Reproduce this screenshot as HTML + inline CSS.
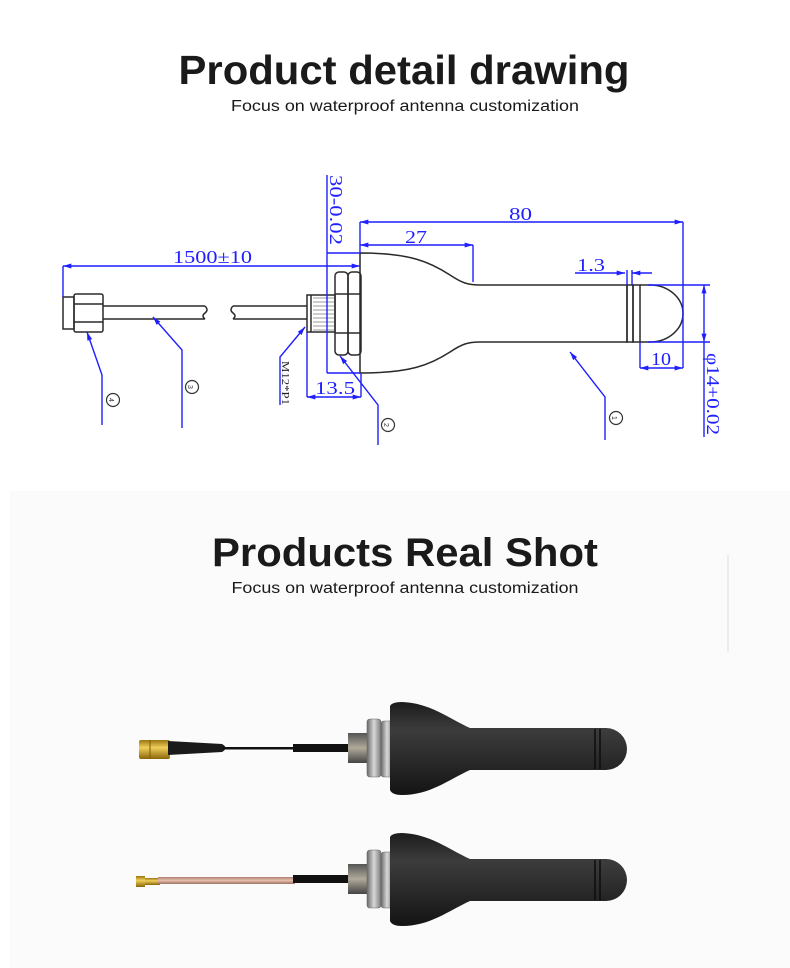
<!DOCTYPE html>
<html><head><meta charset="utf-8">
<style>
html,body{margin:0;padding:0;background:#fff;}
svg{display:block;}
</style></head>
<body>
<svg width="790" height="968" viewBox="0 0 790 968" xmlns="http://www.w3.org/2000/svg">
<defs>
  <marker id="ar" viewBox="0 0 10 6" refX="10" refY="3" markerWidth="9" markerHeight="5" orient="auto-start-reverse" markerUnits="userSpaceOnUse">
    <path d="M0,0 L10,3 L0,6 Z" fill="#1f1fff"/>
  </marker>
  <linearGradient id="bodyG" x1="0" y1="0" x2="0" y2="1">
    <stop offset="0" stop-color="#1c1c1c"/>
    <stop offset="0.3" stop-color="#3c3c3c"/>
    <stop offset="0.55" stop-color="#2e2e2e"/>
    <stop offset="1" stop-color="#141414"/>
  </linearGradient>
  <linearGradient id="nutG" x1="0" y1="0" x2="1" y2="0">
    <stop offset="0" stop-color="#6a6a6a"/>
    <stop offset="0.5" stop-color="#d8d8d8"/>
    <stop offset="1" stop-color="#7a7a7a"/>
  </linearGradient>
  <linearGradient id="thrG" x1="0" y1="0" x2="0" y2="1">
    <stop offset="0" stop-color="#555"/>
    <stop offset="0.5" stop-color="#b0aa9a"/>
    <stop offset="1" stop-color="#444"/>
  </linearGradient>
  <linearGradient id="goldG" x1="0" y1="0" x2="0" y2="1">
    <stop offset="0" stop-color="#9a7410"/>
    <stop offset="0.4" stop-color="#f0cf5a"/>
    <stop offset="1" stop-color="#8a6508"/>
  </linearGradient>
  <linearGradient id="copG" x1="0" y1="0" x2="0" y2="1">
    <stop offset="0" stop-color="#b08070"/>
    <stop offset="0.5" stop-color="#e6c0b0"/>
    <stop offset="1" stop-color="#a07060"/>
  </linearGradient>
</defs>

<!-- backgrounds -->
<rect x="0" y="0" width="790" height="968" fill="#fff"/>
<rect x="10" y="491" width="780" height="477" fill="#fbfbfb"/>
<line x1="728" y1="555" x2="728" y2="652" stroke="#ececec" stroke-width="2"/>

<!-- titles -->
<text x="404" y="84" text-anchor="middle" font-family="Liberation Sans, sans-serif" font-weight="bold" font-size="41" fill="#1a1a1a" textLength="451" lengthAdjust="spacingAndGlyphs">Product detail drawing</text>
<text x="405" y="111" text-anchor="middle" font-family="Liberation Sans, sans-serif" font-size="15.5" fill="#1a1a1a" textLength="348" lengthAdjust="spacingAndGlyphs">Focus on waterproof antenna customization</text>
<text x="405" y="566" text-anchor="middle" font-family="Liberation Sans, sans-serif" font-weight="bold" font-size="40" fill="#1a1a1a" textLength="386" lengthAdjust="spacingAndGlyphs">Products Real Shot</text>
<text x="405" y="593" text-anchor="middle" font-family="Liberation Sans, sans-serif" font-size="15.5" fill="#1a1a1a" textLength="347" lengthAdjust="spacingAndGlyphs">Focus on waterproof antenna customization</text>

<!-- ===== drawing: black parts ===== -->
<g fill="none" stroke="#2a2a2a" stroke-width="1.5">
  <!-- SMA -->
  <rect x="63" y="297" width="11" height="32"/>
  <rect x="74" y="294" width="29" height="38" rx="2"/>
  <line x1="74" y1="304" x2="103" y2="304"/>
  <line x1="74" y1="322" x2="103" y2="322"/>
  <!-- cable -->
  <line x1="103" y1="306" x2="205" y2="306"/>
  <line x1="103" y1="319" x2="205" y2="319"/>
  <path d="M205,306 Q209,310 205,313 Q201,316 205,319"/>
  <path d="M233,306 Q229,310 233,313 Q237,316 233,319"/>
  <line x1="233" y1="306" x2="307" y2="306"/>
  <line x1="233" y1="319" x2="307" y2="319"/>
  <!-- thread -->
  <rect x="307" y="295" width="28" height="37"/>
  <line x1="311" y1="295" x2="311" y2="332"/>
  <!-- nuts -->
  <rect x="335" y="272" width="13" height="83" rx="4"/>
  <rect x="348" y="272" width="13" height="83" rx="4"/>
  <line x1="335" y1="294" x2="361" y2="294"/>
  <line x1="335" y1="333" x2="361" y2="333"/>
  <!-- body -->
  <path d="M360,253 C410,253 430,262 450,275 C462,283 468,285 480,285 L627,285 L627,342 L480,342 C468,342 462,344 450,352 C430,365 410,373 360,373 Z"/>
  <rect x="627" y="285" width="6" height="57"/>
  <rect x="633" y="285" width="7" height="57"/>
  <path d="M640,285 L650,285 A33,28.5 0 0 1 650,342 L640,342"/>
</g>
<g stroke="#333" stroke-width="0.6">
  <line x1="313" y1="298" x2="334" y2="298"/><line x1="313" y1="302" x2="334" y2="302"/>
  <line x1="313" y1="306" x2="334" y2="306"/><line x1="313" y1="310" x2="334" y2="310"/>
  <line x1="313" y1="314" x2="334" y2="314"/><line x1="313" y1="318" x2="334" y2="318"/>
  <line x1="313" y1="322" x2="334" y2="322"/><line x1="313" y1="326" x2="334" y2="326"/>
  <line x1="313" y1="330" x2="334" y2="330"/>
</g>

<!-- ===== drawing: blue dims ===== -->
<g stroke="#1f1fff" stroke-width="1.4" fill="none">
  <!-- 1500 -->
  <line x1="63" y1="266" x2="360" y2="266" marker-start="url(#ar)" marker-end="url(#ar)"/>
  <line x1="63" y1="266" x2="63" y2="297"/>
  <!-- 30-0.02 -->
  <line x1="327" y1="175" x2="327" y2="373"/>
  <line x1="327" y1="253" x2="360" y2="253"/>
  <line x1="327" y1="373" x2="360" y2="373"/>
  <!-- 80 -->
  <line x1="360" y1="222" x2="683" y2="222" marker-start="url(#ar)" marker-end="url(#ar)"/>
  <line x1="360" y1="222" x2="360" y2="253"/>
  <line x1="683" y1="222" x2="683" y2="368"/>
  <!-- 27 -->
  <line x1="360" y1="245" x2="473" y2="245" marker-start="url(#ar)" marker-end="url(#ar)"/>
  <line x1="473" y1="245" x2="473" y2="282"/>
  <!-- 1.3 -->
  <line x1="575" y1="273" x2="625" y2="273" marker-end="url(#ar)"/>
  <line x1="652" y1="273" x2="632" y2="273" marker-end="url(#ar)"/>
  <line x1="627" y1="270" x2="627" y2="285"/>
  <line x1="632" y1="270" x2="632" y2="285"/>
  <!-- 10 -->
  <line x1="640" y1="368" x2="683" y2="368" marker-start="url(#ar)" marker-end="url(#ar)"/>
  <line x1="640" y1="342" x2="640" y2="368"/>
  <!-- phi14 -->
  <line x1="648" y1="285" x2="710" y2="285"/>
  <line x1="648" y1="342" x2="710" y2="342"/>
  <line x1="704" y1="285" x2="704" y2="342" marker-start="url(#ar)" marker-end="url(#ar)"/>
  <line x1="704" y1="342" x2="704" y2="437"/>
  <!-- 13.5 -->
  <line x1="307" y1="397" x2="361" y2="397" marker-start="url(#ar)" marker-end="url(#ar)"/>
  <line x1="307" y1="332" x2="307" y2="397"/>
  <line x1="361" y1="373" x2="361" y2="397"/>
  <!-- M12 leader -->
  <polyline points="305,327 280,357 280,405" marker-start="url(#ar)"/>
  <!-- leaders -->
  <polyline points="87,332 102,375 102,425" marker-start="url(#ar)"/>
  <polyline points="153,317 182,350 182,428" marker-start="url(#ar)"/>
  <polyline points="340,356 378,405 378,445" marker-start="url(#ar)"/>
  <polyline points="570,352 605,397 605,440" marker-start="url(#ar)"/>
</g>
<g font-family="Liberation Serif, serif" fill="#1f1fff" font-size="18">
  <text x="173" y="263" textLength="79" lengthAdjust="spacingAndGlyphs">1500±10</text>
  <text x="509" y="220" textLength="23" lengthAdjust="spacingAndGlyphs">80</text>
  <text x="405" y="243" textLength="22" lengthAdjust="spacingAndGlyphs">27</text>
  <text x="577" y="271" textLength="28" lengthAdjust="spacingAndGlyphs">1.3</text>
  <text x="651" y="365" textLength="20" lengthAdjust="spacingAndGlyphs">10</text>
  <text x="315" y="394" textLength="40" lengthAdjust="spacingAndGlyphs">13.5</text>
  <text transform="translate(330,175) rotate(90)" textLength="70" lengthAdjust="spacingAndGlyphs">30-0.02</text>
  <text transform="translate(707,353) rotate(90)" textLength="82" lengthAdjust="spacingAndGlyphs">φ14+0.02</text>
  <text transform="translate(282,361) rotate(90)" font-size="10" fill="#222" textLength="44" lengthAdjust="spacingAndGlyphs">M12*P1</text>
</g>
<g fill="none" stroke="#333" stroke-width="1.2">
  <circle cx="113" cy="400" r="6.5"/>
  <circle cx="192" cy="387" r="6.5"/>
  <circle cx="388" cy="425" r="6.5"/>
  <circle cx="616" cy="418" r="6.5"/>
</g>
<g font-family="Liberation Sans, sans-serif" font-size="7" fill="#333" text-anchor="middle">
  <text transform="translate(111,400) rotate(90)" y="2">4</text>
  <text transform="translate(190,387) rotate(90)" y="2">3</text>
  <text transform="translate(386,425) rotate(90)" y="2">2</text>
  <text transform="translate(614,418) rotate(90)" y="2">1</text>
</g>

<!-- ===== photos ===== -->
<g id="ant1">
  <!-- SMA gold -->
  <rect x="139" y="740" width="31" height="19" rx="2" fill="url(#goldG)"/>
  <line x1="150" y1="740" x2="150" y2="759" stroke="#7a5a08" stroke-width="1"/>
  <!-- boot -->
  <path d="M168,741 L222,744 Q229,748 222,752 L168,755 Z" fill="#1a1a1a"/>
  <!-- thin cable -->
  <rect x="222" y="747" width="74" height="2.5" fill="#111"/>
  <!-- sleeve -->
  <rect x="293" y="744" width="57" height="8" fill="#111"/>
  <!-- thread -->
  <rect x="348" y="733" width="20" height="30" fill="url(#thrG)"/>
  <!-- nuts -->
  <rect x="367" y="719" width="14" height="58" rx="3" fill="url(#nutG)" stroke="#666" stroke-width="0.6"/>
  <rect x="381" y="721" width="12" height="56" rx="3" fill="url(#nutG)" stroke="#666" stroke-width="0.6"/>
  <!-- body -->
  <path d="M390,706 Q392,702 402,702 C430,703 448,718 470,728 L606,728 A21,21 0 0 1 606,770 L470,770 C448,780 430,795 402,795 Q392,795 390,790 Z" fill="url(#bodyG)"/>
  <line x1="595" y1="729" x2="595" y2="769" stroke="#0c0c0c" stroke-width="1.5"/>
  <line x1="600" y1="729" x2="600" y2="769" stroke="#0c0c0c" stroke-width="1.5"/>
</g>
<g id="ant2">
  <!-- IPEX connector -->
  <rect x="136" y="876" width="9" height="11" fill="url(#goldG)"/>
  <rect x="145" y="878" width="15" height="7" fill="url(#goldG)"/>
  <!-- copper cable -->
  <rect x="158" y="877" width="137" height="7" fill="url(#copG)"/>
  <!-- sleeve -->
  <rect x="293" y="875" width="57" height="8" fill="#111"/>
  <rect x="348" y="864" width="20" height="30" fill="url(#thrG)"/>
  <rect x="367" y="850" width="14" height="58" rx="3" fill="url(#nutG)" stroke="#666" stroke-width="0.6"/>
  <rect x="381" y="852" width="12" height="56" rx="3" fill="url(#nutG)" stroke="#666" stroke-width="0.6"/>
  <path d="M390,837 Q392,833 402,833 C430,834 448,849 470,859 L606,859 A21,21 0 0 1 606,901 L470,901 C448,911 430,926 402,926 Q392,926 390,921 Z" fill="url(#bodyG)"/>
  <line x1="595" y1="860" x2="595" y2="900" stroke="#0c0c0c" stroke-width="1.5"/>
  <line x1="600" y1="860" x2="600" y2="900" stroke="#0c0c0c" stroke-width="1.5"/>
</g>
</svg>
</body></html>
